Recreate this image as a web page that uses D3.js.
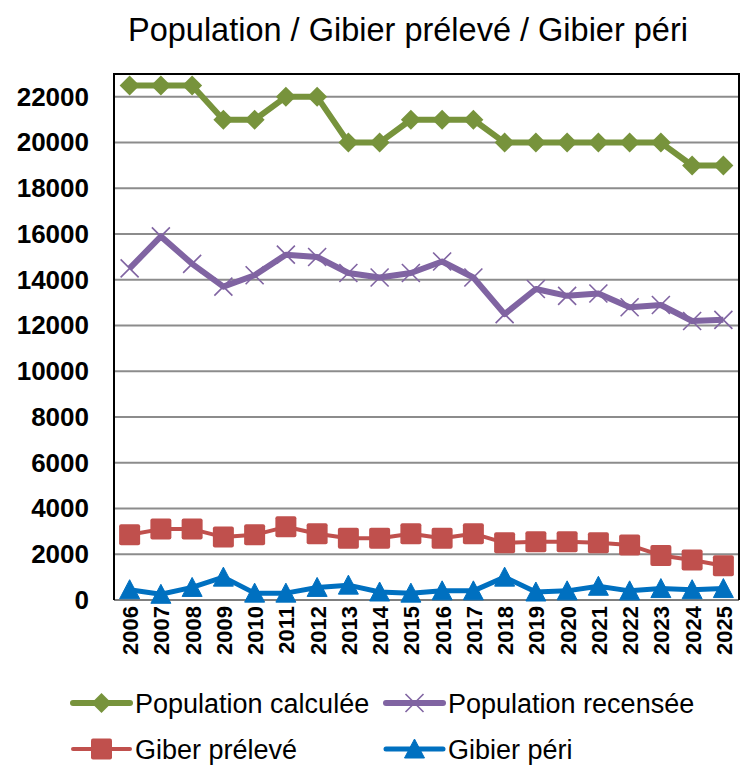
<!DOCTYPE html>
<html>
<head>
<meta charset="utf-8">
<script src="https://cdn.jsdelivr.net/npm/d3@7"></script>
<style>
  body { margin: 0; background: #fff; }
  text { font-family: Arial, 'Liberation Sans', sans-serif; }
</style>
</head>
<body>
<div id="main"></div>
<script>
const years = ['2006', '2007', '2008', '2009', '2010', '2011', '2012', '2013', '2014', '2015',
  '2016', '2017', '2018', '2019', '2020', '2021', '2022', '2023', '2024', '2025'];
const popCalculee = [22500, 22500, 22500, 21000, 21000, 22000, 22000, 20000, 20000, 21000,
  21000, 21000, 20000, 20000, 20000, 20000, 20000, 20000, 19000, 19000];
const popRecensee = [14500, 15900, 14700, 13700, 14200, 15100, 15000, 14300, 14100, 14300,
  14800, 14100, 12500, 13600, 13300, 13400, 12800, 12900, 12200, 12250];
const gibierPreleve = [2850, 3100, 3100, 2750, 2850, 3200, 2900, 2700, 2700, 2900,
  2700, 2900, 2500, 2550, 2550, 2500, 2400, 1950, 1750, 1500];
const gibierPeri = [450, 250, 550, 1000, 300, 300, 550, 650, 350, 300,
  400, 400, 1000, 350, 400, 600, 400, 500, 450, 500];
const yTicks = [0, 2000, 4000, 6000, 8000, 10000, 12000, 14000, 16000, 18000, 20000, 22000];

const series = [
  { name: 'Population calculée', values: popCalculee, color: '#77933C', lw: 6, marker: 'diamond' },
  { name: 'Population recensée', values: popRecensee, color: '#8064A2', lw: 6, marker: 'cross' },
  { name: 'Giber prélevé', values: gibierPreleve, color: '#C0504D', lw: 4, marker: 'square' },
  { name: 'Gibier péri', values: gibierPeri, color: '#0070C0', lw: 5, marker: 'triangle' },
];

const width = 748;
const height = 776;
const plot = { left: 114, right: 739, top: 74, bottom: 600 };

const svg = d3.select('#main').append('svg')
  .attr('width', width)
  .attr('height', height);

const x = d3.scalePoint()
  .domain(years)
  .range([plot.left, plot.right])
  .padding(0.5);

const y = d3.scaleLinear()
  .domain([0, 23000])
  .range([plot.bottom, plot.top]);

// title
svg.append('text')
  .attr('x', 408)
  .attr('y', 41)
  .attr('text-anchor', 'middle')
  .style('font-size', '32.5px')
  .text('Population / Gibier prélevé / Gibier péri');

// gridlines
svg.append('g')
  .selectAll('line')
  .data(yTicks.filter((d) => d > 0))
  .join('line')
  .attr('x1', plot.left)
  .attr('x2', plot.right)
  .attr('y1', (d) => y(d))
  .attr('y2', (d) => y(d))
  .attr('stroke', '#8c8c8c')
  .attr('stroke-width', 2);

// y axis labels
const yAxis = svg.append('g')
  .attr('transform', `translate(${plot.left},0)`)
  .call(d3.axisLeft(y).tickValues(yTicks).tickSize(0).tickPadding(25).tickFormat(d3.format('d')));
yAxis.select('.domain').remove();
yAxis.selectAll('text')
  .style('font-size', '26px')
  .style('font-weight', 'bold')
  .attr('fill', '#000')
  .attr('font-family', null);

// x axis labels
const xAxis = svg.append('g')
  .attr('transform', `translate(0,${plot.bottom})`)
  .call(d3.axisBottom(x).tickSize(0));
xAxis.select('.domain').remove();
xAxis.selectAll('text')
  .attr('transform', 'rotate(-90)')
  .attr('text-anchor', 'end')
  .attr('x', -6)
  .attr('y', 0)
  .attr('dy', '0.36em')
  .style('font-size', '22px')
  .style('font-weight', 'bold')
  .attr('fill', '#000')
  .attr('font-family', null);

// plot frame
svg.append('line')
  .attr('x1', plot.left).attr('x2', plot.right)
  .attr('y1', plot.bottom).attr('y2', plot.bottom)
  .attr('stroke', '#7f7f7f').attr('stroke-width', 2);
svg.append('path')
  .attr('d', `M${plot.left},${plot.bottom}V${plot.top}H${plot.right}V${plot.bottom}`)
  .attr('fill', 'none')
  .attr('stroke', '#000')
  .attr('stroke-width', 2);

function drawMarker(g, type, color) {
  if (type === 'diamond') {
    g.append('path').attr('d', 'M0,-10L10,0L0,10L-10,0Z').attr('fill', color);
  } else if (type === 'cross') {
    g.append('path').attr('d', 'M-9,-9L9,9M-9,9L9,-9').attr('stroke', color).attr('stroke-width', 1.6);
  } else if (type === 'square') {
    g.append('rect').attr('x', -10.5).attr('y', -10.5).attr('width', 21).attr('height', 21)
      .attr('rx', 2).attr('fill', color);
  } else if (type === 'triangle') {
    g.append('path').attr('d', 'M0,-10L10,9L-10,9Z').attr('fill', color)
      .attr('stroke', color).attr('stroke-width', 1).attr('stroke-linejoin', 'round');
  }
}

const line = d3.line()
  .x((d, i) => x(years[i]))
  .y((d) => y(d));

series.forEach((s) => {
  const g = svg.append('g');
  g.append('path')
    .datum(s.values)
    .attr('d', line)
    .attr('fill', 'none')
    .attr('stroke', s.color)
    .attr('stroke-width', s.lw)
    .attr('stroke-linejoin', 'round');
  g.selectAll('g.marker')
    .data(s.values)
    .join('g')
    .attr('class', 'marker')
    .attr('transform', (d, i) => `translate(${x(years[i])},${y(d)})`)
    .each(function () { drawMarker(d3.select(this), s.marker, s.color); });
});

// legend
const legendPos = [
  { x: 73, y: 703 }, { x: 386, y: 703 },
  { x: 73, y: 749 }, { x: 386, y: 749 },
];
series.forEach((s, i) => {
  const p = legendPos[i];
  const g = svg.append('g').attr('transform', `translate(${p.x},${p.y})`);
  g.append('line')
    .attr('x1', 0).attr('x2', 57)
    .attr('stroke', s.color)
    .attr('stroke-width', s.lw)
    .attr('stroke-linecap', 'round');
  drawMarker(g.append('g').attr('transform', 'translate(28.5,0)'), s.marker, s.color);
  g.append('text')
    .attr('x', 62)
    .attr('dy', '0.36em')
    .style('font-size', '27px')
    .text(s.name);
});
</script>
</body>
</html>
